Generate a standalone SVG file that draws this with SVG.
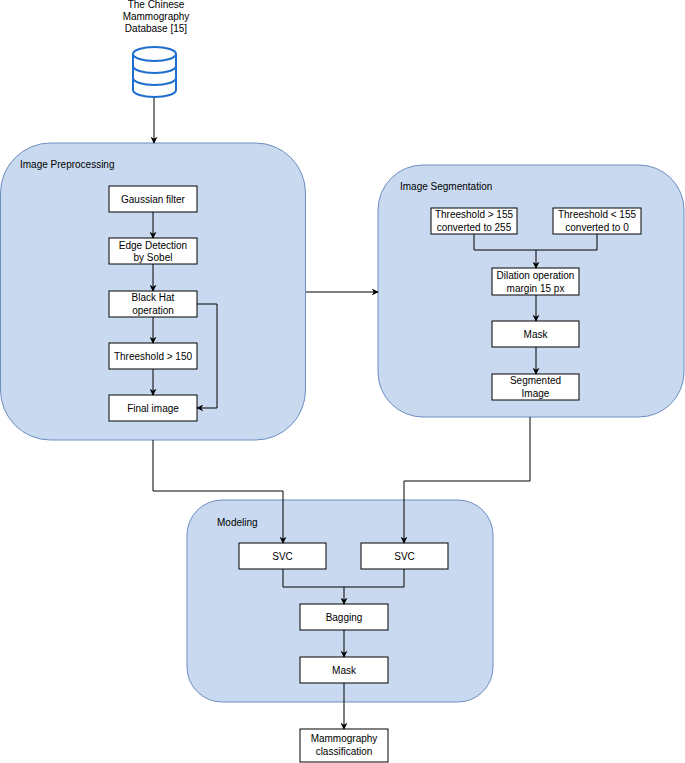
<svg xmlns="http://www.w3.org/2000/svg" width="685" height="763" viewBox="0 0 685 763">
<defs>
<marker id="ar" viewBox="0 0 10 10" refX="9" refY="5" markerWidth="7" markerHeight="7" orient="auto" markerUnits="userSpaceOnUse"><path d="M0,0 L10,5 L0,10 L3,5 z" fill="#000"/></marker>
</defs>
<style>
.c{fill:#c9daf0;stroke:#6c8ebf;stroke-width:1}
.b{fill:#fff;stroke:#000;stroke-width:1}
text{font-family:"Liberation Sans",Arial,sans-serif;font-size:10px;fill:#000}
.m{text-anchor:middle}
.l{fill:none;stroke:#000;stroke-width:1;marker-end:url(#ar)}
</style>
<rect width="685" height="763" fill="#fff"/>
<g id="db">
<text class="m" x="156" y="8">The Chinese</text>
<text class="m" x="156" y="20">Mammography</text>
<text class="m" x="156" y="32">Database [15]</text>
<path d="M133,54 v36 a21.5,7 0 0 0 43,0 v-36" fill="#fff" stroke="#1f6fd1" stroke-width="2"/>
<ellipse cx="154.5" cy="54" rx="21.5" ry="7" fill="#fff" stroke="#1f6fd1" stroke-width="2"/>
<path d="M133,66 a21.5,7 0 0 0 43,0 M133,78 a21.5,7 0 0 0 43,0" fill="none" stroke="#1f6fd1" stroke-width="2"/>
</g>
<g id="preproc">
<rect class="c" x="0.5" y="143" width="305" height="297" rx="50"/>
<text x="20" y="168">Image Preprocessing</text>
</g>
<g id="seg">
<rect class="c" x="378" y="165" width="306" height="252" rx="45"/>
<text x="400" y="190">Image Segmentation</text>
</g>
<g id="model">
<rect class="c" x="187" y="500" width="306" height="202" rx="35"/>
<text x="217" y="526">Modeling</text>
</g>
<g id="n1"><rect class="b" x="109" y="186" width="88" height="26"/><text class="m" x="153" y="203">Gaussian filter</text></g>
<g id="n2"><rect class="b" x="109" y="238" width="88" height="26"/><text class="m" x="153" y="249">Edge Detection</text><text class="m" x="153" y="261">by Sobel</text></g>
<g id="n3"><rect class="b" x="109" y="291" width="88" height="26"/><text class="m" x="153" y="301">Black Hat</text><text class="m" x="153" y="314">operation</text></g>
<g id="n4"><rect class="b" x="109" y="343" width="88" height="26"/><text class="m" x="153" y="360">Threeshold &gt; 150</text></g>
<g id="n5"><rect class="b" x="109" y="395" width="88" height="26"/><text class="m" x="153" y="412">Final image</text></g>
<g id="s1"><rect class="b" x="431" y="208" width="86" height="26"/><text class="m" x="474" y="218">Threeshold &gt; 155</text><text class="m" x="474" y="231">converted to 255</text></g>
<g id="s2"><rect class="b" x="553" y="208" width="88" height="26"/><text class="m" x="597" y="218">Threeshold &lt; 155</text><text class="m" x="597" y="231">converted to 0</text></g>
<g id="s3"><rect class="b" x="492" y="268" width="87" height="27"/><text class="m" x="535.5" y="279">Dilation operation</text><text class="m" x="535.5" y="292">margin 15 px</text></g>
<g id="s4"><rect class="b" x="492" y="321" width="87" height="26"/><text class="m" x="535.5" y="338">Mask</text></g>
<g id="s5"><rect class="b" x="492" y="374" width="87" height="26"/><text class="m" x="535.5" y="384">Segmented</text><text class="m" x="535.5" y="397">Image</text></g>
<g id="m1"><rect class="b" x="239" y="543" width="87" height="26"/><text class="m" x="282.5" y="560">SVC</text></g>
<g id="m2"><rect class="b" x="361" y="543" width="87" height="26"/><text class="m" x="404.5" y="560">SVC</text></g>
<g id="m3"><rect class="b" x="300" y="604" width="88" height="26"/><text class="m" x="344" y="621">Bagging</text></g>
<g id="m4"><rect class="b" x="300" y="657" width="88" height="26"/><text class="m" x="344" y="674">Mask</text></g>
<g id="out"><rect class="b" x="300" y="729" width="88" height="33"/><text class="m" x="344" y="742">Mammography</text><text class="m" x="344" y="755">classification</text></g>
<g id="connectors">
<path class="l" d="M154,98 V143"/>
<path class="l" d="M153,212 V238"/>
<path class="l" d="M153,264 V291"/>
<path class="l" d="M153,317 V343"/>
<path class="l" d="M153,369 V395"/>
<path class="l" d="M197,304 H217 V408 H197"/>
<path class="l" d="M306,292 H378"/>
<path class="l" d="M474,234 V250 H536 V268"/>
<path fill="none" stroke="#000" d="M597,234 V250 H536"/>
<path class="l" d="M536,295 V321"/>
<path class="l" d="M536,347 V374"/>
<path class="l" d="M153,440 V491 H283 V543"/>
<path class="l" d="M530,417 V481 H404 V543"/>
<path class="l" d="M283,569 V587 H344 V604"/>
<path fill="none" stroke="#000" d="M404,569 V587 H344"/>
<path class="l" d="M344,630 V657"/>
<path class="l" d="M344,683 V729"/>
</g>
</svg>
